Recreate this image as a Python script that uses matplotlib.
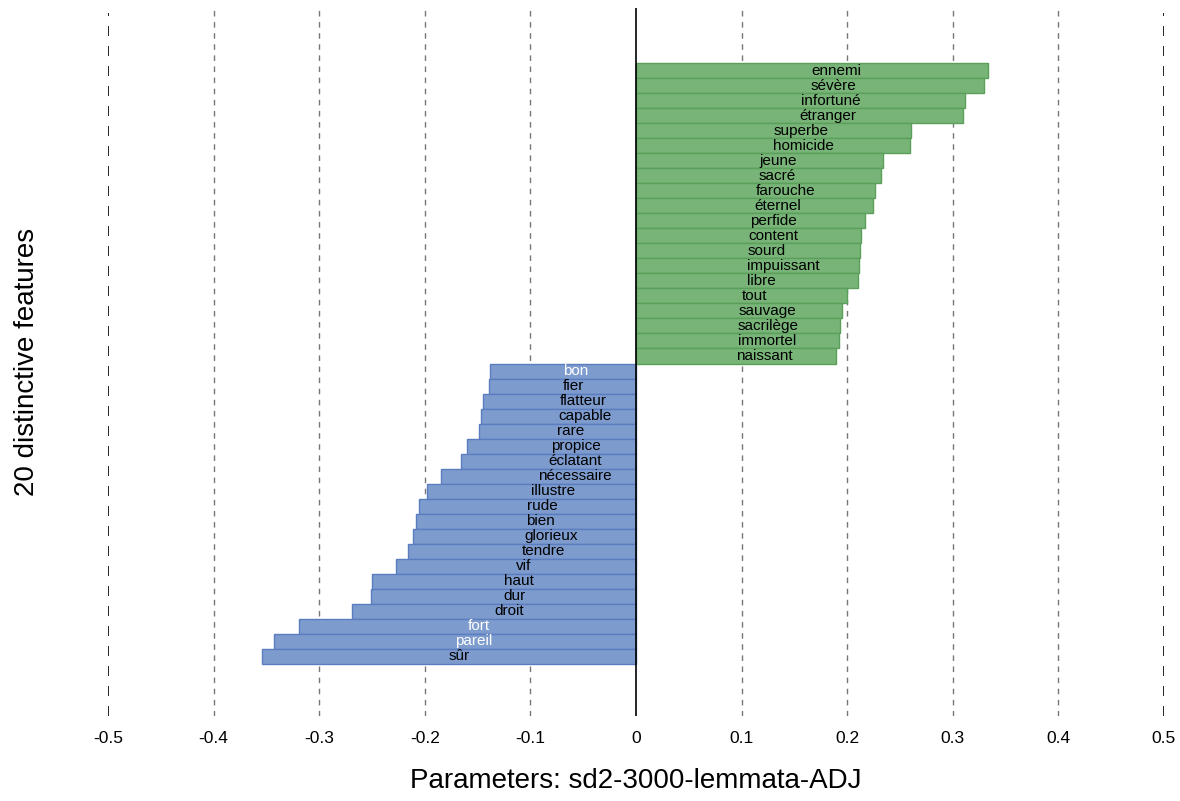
import matplotlib
matplotlib.use("Agg")
import matplotlib.pyplot as plt
import numpy as np

plt.rcParams['font.family'] = ['Liberation Sans', 'DejaVu Sans']

pos_words = ["ennemi", "sévère", "infortuné", "étranger", "superbe", "homicide",
             "jeune", "sacré", "farouche", "éternel", "perfide", "content", "sourd",
             "impuissant", "libre", "tout", "sauvage", "sacrilège", "immortel", "naissant"]
pos_values = [0.333, 0.330, 0.312, 0.3095, 0.2606, 0.2597, 0.2335, 0.2322, 0.226, 0.2244,
              0.2165, 0.2133, 0.2118, 0.211, 0.210, 0.200, 0.1947, 0.1929, 0.1924, 0.189]

neg_words = ["bon", "fier", "flatteur", "capable", "rare", "propice", "éclatant",
             "nécessaire", "illustre", "rude", "bien", "glorieux", "tendre", "vif",
             "haut", "dur", "droit", "fort", "pareil", "sûr"]
neg_values = [-0.1383, -0.139, -0.1446, -0.147, -0.149, -0.160, -0.166, -0.185, -0.198,
              -0.2056, -0.2087, -0.2116, -0.216, -0.227, -0.250, -0.2505, -0.269,
              -0.319, -0.343, -0.3546]
white_labels = ["bon", "fort", "pareil"]

xticks = [-0.5, -0.4, -0.3, -0.2, -0.1, 0, 0.1, 0.2, 0.3, 0.4, 0.5]
xtick_labels = ["-0.5", "-0.4", "-0.3", "-0.2", "-0.1", "0", "0.1", "0.2", "0.3", "0.4", "0.5"]

words = pos_words + neg_words
values = pos_values + neg_values
n = len(words)
ypos = np.arange(n)[::-1]  # first word at top

fig = plt.figure(figsize=(11.8, 8.01), dpi=100)
ax = fig.add_axes([108/1180, 1 - 716/801, (1164-108)/1180, (716-8)/801])

green_face, green_edge = "#78b478", "#5a9f5a"
blue_face, blue_edge = "#7d9bcd", "#5b7dbf"
colors = [green_face if v > 0 else blue_face for v in values]
edges = [green_edge if v > 0 else blue_edge for v in values]

# grid lines
for t in xticks:
    if t == 0:
        continue
    if abs(t) == 0.5:
        ax.axvline(t, color="black", linestyle=(0, (6, 6)), linewidth=1.2, zorder=1,
                   ymax=0.993)
    else:
        ax.axvline(t, color="#777777", linestyle=(0, (4, 4)), linewidth=1.0, zorder=1)

ax.barh(ypos, values, height=1.0, color=colors, edgecolor=edges, linewidth=1.0, zorder=2)
ax.axvline(0, color="black", linewidth=1.2, zorder=3)

for y, w, v in zip(ypos, words, values):
    ax.text(v / 2, y, w, ha="left", va="center", fontsize=11,
            color="white" if w in white_labels else "black", zorder=4)

ax.set_xlim(-0.5, 0.5)
ax.set_ylim(-3.97, n - 1 + 4.17)
ax.set_xticks(xticks)
ax.set_xticklabels(xtick_labels, fontsize=12.5)
ax.tick_params(axis="x", length=0, pad=11)
ax.set_yticks([])
for s in ax.spines.values():
    s.set_visible(False)

ax.set_xlabel("Parameters: sd2-3000-lemmata-ADJ", fontsize=20, labelpad=16)
fig.text(27/1180, 1 - 362/801, "20 distinctive features", rotation=90, fontsize=20,
         ha="center", va="center")

fig.savefig("out.png", dpi=100)
